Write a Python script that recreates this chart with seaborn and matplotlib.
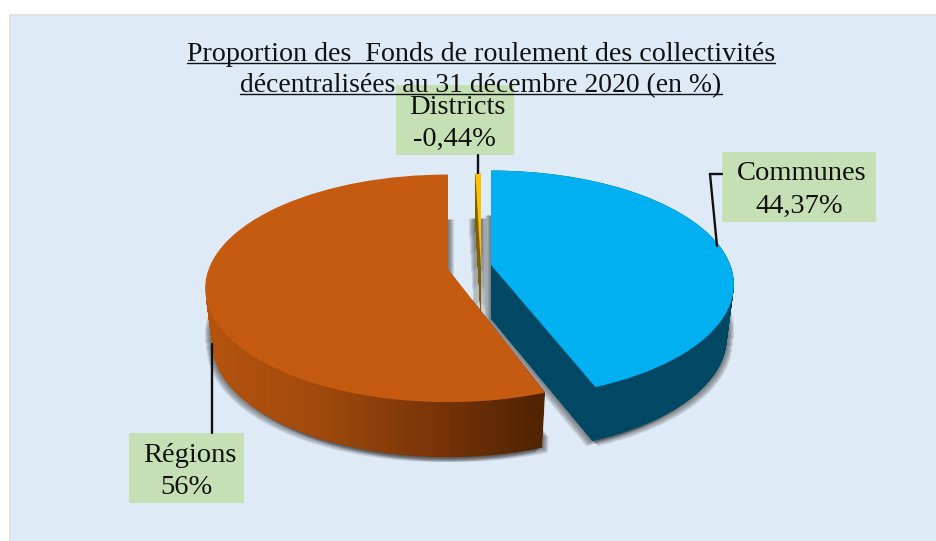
import numpy as np
import matplotlib
matplotlib.use('Agg')
import matplotlib.pyplot as plt
import seaborn as sns
from matplotlib.patches import PathPatch, Rectangle
from matplotlib.path import Path
from matplotlib.transforms import Affine2D, Transform

# data
slice_names = ['Communes', 'Régions', 'Districts']
slice_values = [44.37, 56, 0.44]
slice_texts = ['44,37%', '56%', '-0,44%']
title_lines = ['Proportion des  Fonds de roulement des collectivités',
               'décentralisées au 31 décembre 2020 (en %)']

# look of the slices
top_colors = ['#00B0F0', '#C55A11', '#FFC000']
side_colors = ['#004864', '#A04A0D', '#7F6000']
centers = [(491, 265), (448, 269), (481, 268)]
depths = [54, 55, 55]
draw_order = [2, 0, 1]


class TiltTransform(Transform):
    # puts the flat pie on the table, near side bigger than far side
    input_dims = 2
    output_dims = 2
    is_affine = False
    has_inverse = False

    def transform_non_affine(self, values):
        x, y = np.asarray(values).T
        d = 1 + 0.17 * y
        return np.column_stack((239.3 * x / d, -110.5 * y / d))


def tilted(i, dy=0, dx=0):
    tr = TiltTransform()
    if i == 1:
        # the sliver does not eat into the regions slice
        turn = 360 * slice_values[2] / sum(slice_values)
        tr = Affine2D().rotate_deg(-turn) + tr
    # lower layers are a bit narrower
    narrow = 1 - 0.03 * dy / 55
    return tr + Affine2D().scale(narrow, 1).translate(centers[i][0] + dx, centers[i][1] + dy)


def block_path(i, wedge, first=0, dx=0, extra=0):
    paths = []
    for dy in range(first, depths[i] + extra + 1):
        paths.append(tilted(i, dy, dx).transform_path(wedge.get_path()))
    return Path.make_compound_path(*paths)


sns.set_theme(style='white')
plt.rcParams['font.family'] = ['Liberation Serif', 'DejaVu Serif']

fig = plt.figure(figsize=(9.36, 5.41), dpi=100, facecolor='white')
ax = fig.add_axes([0, 0, 1, 1])

wedges, _ = ax.pie(slice_values, colors=top_colors, startangle=90, counterclock=False,
                   wedgeprops={'edgecolor': 'none', 'linewidth': 0})
ax.set_aspect('auto')
ax.axis('off')

# panel
ax.add_patch(Rectangle((10, 15), 940, 540, fc='#DEEAF6', ec='#E2E2E2', lw=1.5, zorder=0))

# soft shadow of the blocks
for spread in [6, 5, 4, 3, 2, 1]:
    for i, wedge in enumerate(wedges):
        for dx in [-spread, spread]:
            ax.add_patch(PathPatch(block_path(i, wedge, first=45, dx=dx, extra=spread - 1),
                                   fc='#303030', ec='none', alpha=0.13, zorder=1))

# blocks, back to front
orange_cmap = sns.blend_palette(['#B5540F', '#A04A0D', '#7A3508', '#4F2303'], as_cmap=True)
for n, i in enumerate(draw_order):
    zo = 2 + n
    side = block_path(i, wedges[i])
    if slice_names[i] == 'Régions':
        im = ax.imshow(np.linspace(0, 1, 256).reshape(1, -1), extent=(205, 545, 465, 300),
                       cmap=orange_cmap, aspect='auto', zorder=zo)
        im.set_clip_path(side, ax.transData)
    else:
        ax.add_patch(PathPatch(side, fc=side_colors[i], ec='none', zorder=zo))
    wedges[i].set_transform(tilted(i) + ax.transData)
    wedges[i].set_zorder(zo + 0.5)

ax.set_xlim(0, 936)
ax.set_ylim(541, 0)

# leader lines
ax.plot([722, 710, 717], [174, 174, 246], color='#111111', lw=1.7, zorder=7, solid_joinstyle='miter')
ax.plot([477.5, 477.5], [155, 173], color='#111111', lw=1.7, zorder=7)
ax.plot([211.5, 211.5], [344, 433], color='#111111', lw=1.7, zorder=7)

# label boxes
boxes = [(722, 152, 154, 70), (129, 433, 115, 70), (396, 85, 118, 70)]
name_pos = [(802, 174), (189.5, 455), (457, 108)]
text_pos = [(799, 206), (186, 487), (454, 139)]
for i in range(3):
    x, y, w, h = boxes[i]
    ax.add_patch(Rectangle((x, y), w, h, fc='#C5E0B4', ec='none', zorder=6))
    ax.text(*name_pos[i], slice_names[i], ha='center', va='center', fontsize=20.5, color='#111111', zorder=8)
    ax.text(*text_pos[i], slice_texts[i], ha='center', va='center', fontsize=20.5, color='#111111', zorder=8)

# title with underline, it sits over the districts box
renderer = fig.canvas.get_renderer()
for line, base, size in zip(title_lines, [61, 92], [20.2, 19.9]):
    t = ax.text(481, base, line, ha='center', va='baseline', fontsize=size, color='#111111', zorder=8)
    box = t.get_window_extent(renderer)
    ax.plot([box.x0, box.x1], [base + 2, base + 2], color='#111111', lw=1, zorder=8)

fig.savefig('out.png', dpi=100)
